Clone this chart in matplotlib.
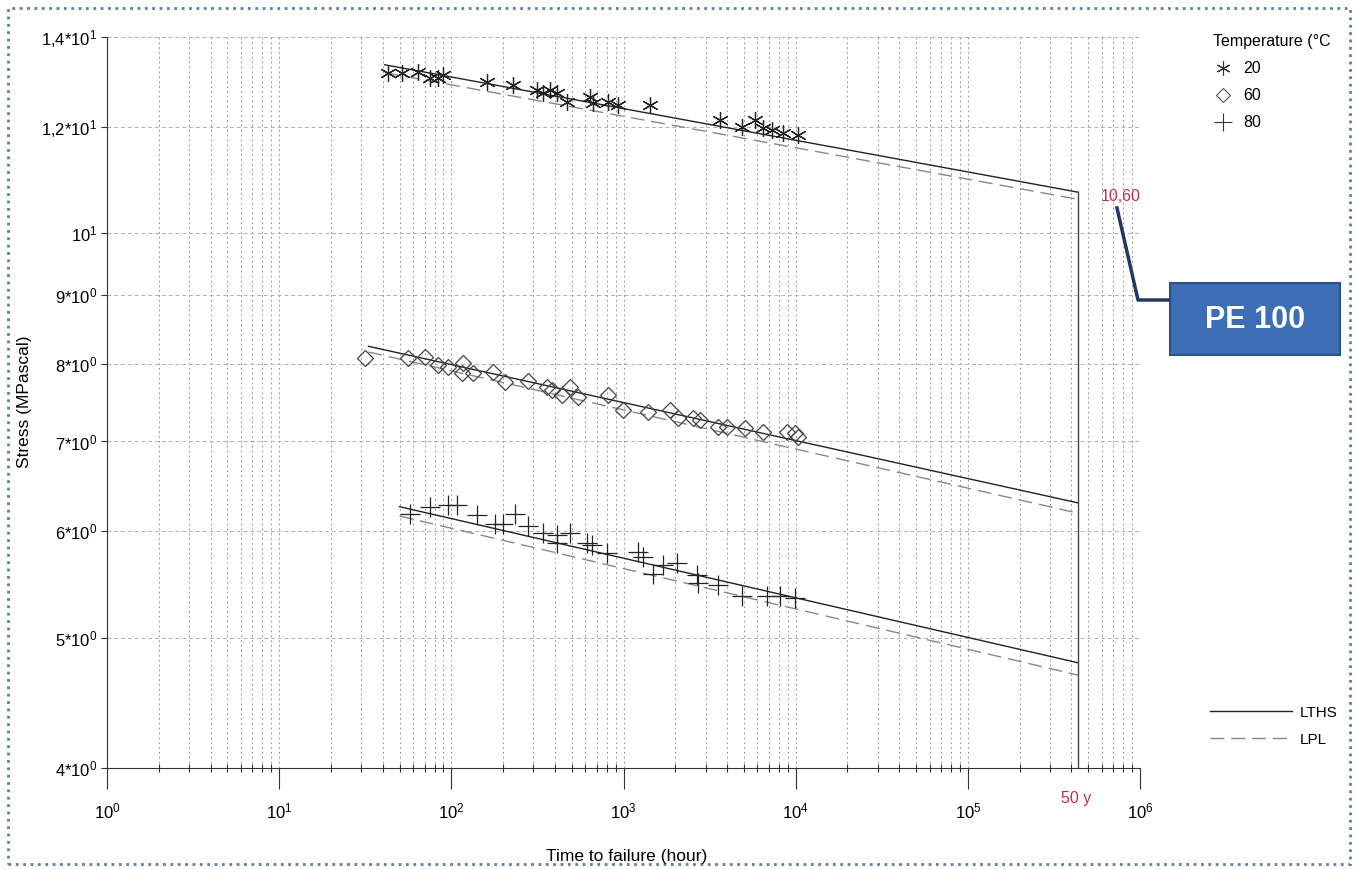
import numpy as np
import matplotlib
matplotlib.use("Agg")
import matplotlib.pyplot as plt
from matplotlib.lines import Line2D
from matplotlib.patches import Rectangle
from matplotlib.ticker import LogLocator, NullLocator, NullFormatter, FixedLocator

plt.rcParams['font.family'] = ['Liberation Sans', 'DejaVu Sans']
plt.rcParams['mathtext.default'] = 'regular'

# --- data ---
# 20 C (asterisks)
t_20 = [43, 52, 64, 75, 84, 89, 161, 228, 314, 340, 374, 410, 469, 638, 664,
        811, 927, 1420, 3630, 4870, 5800, 6450, 7280, 8430, 10300]
s_20 = [13.16, 13.16, 13.18, 13.06, 13.06, 13.11, 12.95, 12.89, 12.78, 12.71,
        12.78, 12.71, 12.52, 12.63, 12.50, 12.52, 12.46, 12.46, 12.14, 12.00,
        12.14, 11.98, 11.94, 11.88, 11.84]
# 60 C (diamonds)
t_60 = [31.5, 56, 70, 84, 95.5, 117, 115, 134, 175, 205, 279, 359, 384, 439,
        488, 543, 811, 993, 1386, 1860, 2070, 2530, 2780, 3530, 3980, 5070,
        6450, 8890, 9890, 10300]
s_60 = [8.07, 8.07, 8.09, 7.98, 7.95, 8.01, 7.87, 7.87, 7.88, 7.75, 7.77, 7.68,
        7.64, 7.58, 7.68, 7.55, 7.58, 7.39, 7.36, 7.39, 7.29, 7.29, 7.26, 7.17,
        7.17, 7.16, 7.11, 7.11, 7.10, 7.05]
# 80 C (plus)
t_80 = [57.5, 75, 95.6, 108, 141, 179, 199, 234, 279, 340, 410, 410, 488, 613,
        656, 801, 1212, 1297, 1482, 1693, 2042, 2670, 2705, 3530, 4870, 6800,
        8090, 9890]
s_80 = [6.18, 6.26, 6.28, 6.28, 6.17, 6.08, 6.08, 6.18, 6.06, 5.98, 5.96, 5.88,
        5.98, 5.88, 5.86, 5.78, 5.79, 5.74, 5.58, 5.66, 5.68, 5.57, 5.49, 5.47,
        5.37, 5.37, 5.37, 5.35]

# fitted lines (start, 50 years)
t_fit_20 = [41, 438000]
lths_20 = [13.35, 10.73]
lpl_20 = [13.17, 10.60]
t_fit_60 = [33, 438000]
lths_60 = [8.24, 6.30]
lpl_60 = [8.16, 6.19]
t_fit_80 = [50, 438000]
lths_80 = [6.26, 4.79]
lpl_80 = [6.16, 4.69]

t_50y = 438000

ytick_vals = [4, 5, 6, 7, 8, 9, 10, 12, 14]
ytick_labels = [r'4*10$^{0}$', r'5*10$^{0}$', r'6*10$^{0}$', r'7*10$^{0}$',
                r'8*10$^{0}$', r'9*10$^{0}$', r'10$^{1}$', r'1,2*10$^{1}$',
                r'1,4*10$^{1}$']
xtick_vals = [1, 10, 100, 1e3, 1e4, 1e5, 1e6]
xtick_labels = [r'10$^{%d}$' % i for i in range(7)]

W, H = 1355, 869
fig = plt.figure(figsize=(W / 100, H / 100), dpi=100)


def fx(x):
    return x / W


def fy(y):
    return 1 - y / H


ax = fig.add_axes([fx(107), fy(768), fx(1140) - fx(107), fy(37) - fy(768)])
ax.set_xscale('log')
ax.set_yscale('log')
ax.set_xlim(1, 1e6)
ax.set_ylim(4, 14)

for s in ['top', 'right']:
    ax.spines[s].set_visible(False)
ax.spines['left'].set_color('#333333')
ax.spines['bottom'].set_color('#333333')

ax.yaxis.set_major_locator(FixedLocator(ytick_vals))
ax.set_yticklabels(ytick_labels)
ax.yaxis.set_minor_locator(NullLocator())
ax.yaxis.set_minor_formatter(NullFormatter())
ax.xaxis.set_major_locator(FixedLocator(xtick_vals))
ax.set_xticklabels(xtick_labels)
ax.xaxis.set_minor_locator(LogLocator(base=10, subs=np.arange(2, 10), numticks=20))
ax.xaxis.set_minor_formatter(NullFormatter())

ax.tick_params(axis='y', direction='out', length=4, width=0.8, pad=3,
               labelsize=12, color='#333333')
ax.tick_params(axis='x', which='major', direction='out', length=15, width=0.8,
               pad=9, labelsize=12, color='#333333')
ax.tick_params(axis='x', which='minor', direction='inout', length=6, width=0.8,
               color='#333333')

ax.grid(True, which='both', axis='x', ls=(0, (2, 3)), color='#9a9a9a', lw=0.7)
ax.grid(True, which='major', axis='y', ls=(0, (4, 3)), color='#b0b0b0', lw=0.7)
ax.set_axisbelow(True)

# fitted lines
for tf, lt, lp in [(t_fit_20, lths_20, lpl_20), (t_fit_60, lths_60, lpl_60),
                   (t_fit_80, lths_80, lpl_80)]:
    ax.plot(tf, lt, color='#222222', lw=1.0)
    ax.plot(tf, lp, color='#888888', lw=1.0, ls=(0, (10, 5)))

ax.plot([t_50y, t_50y], [4, lths_20[1]], color='#444444', lw=1.0)

# measured points
ax.plot(t_20, s_20, ls='none', marker=(6, 2, 0), ms=12, mec='#222222', mew=0.9)
ax.plot(t_60, s_60, ls='none', marker='D', ms=8, mfc='none', mec='#444444', mew=0.9)
ax.plot(t_80, s_80, ls='none', marker='+', ms=14, mec='#222222', mew=0.9)

red = '#c0304a'
fig.text(fx(1076), fy(798), '50 y', color=red, fontsize=11.5,
         ha='center', va='center')
ax.text(t_50y * 1.35, lpl_20[1] * 1.005, '10,60', color=red, fontsize=11.5,
        ha='left', va='center')

# axis titles
fig.text(fx(25), fy(402), 'Stress (MPascal)', rotation=90, fontsize=12.5,
         ha='center', va='center')
fig.text(fx(627), fy(857), 'Time to failure (hour)', fontsize=12.5,
         ha='center', va='center')

# legends
h1 = [Line2D([], [], ls='none', marker=(6, 2, 0), ms=10, mec='#333333', mew=0.8),
      Line2D([], [], ls='none', marker='D', ms=7, mfc='none', mec='#555555', mew=0.8),
      Line2D([], [], ls='none', marker='+', ms=13, mec='#333333', mew=0.8)]
fig.legend(h1, ['20', '60', '80'], loc='upper left',
           bbox_to_anchor=(fx(1199), fy(20)), title='Temperature (°C',
           alignment='left', frameon=False, fontsize=11.5, title_fontsize=11.5,
           handlelength=1.2, handletextpad=0.7, labelspacing=0.75)

h2 = [Line2D([], [], color='#222222', lw=1.0),
      Line2D([], [], color='#888888', lw=1.0, ls=(0, (10, 5)))]
fig.legend(h2, ['LTHS', 'LPL'], loc='upper left',
           bbox_to_anchor=(fx(1196), fy(692)), frameon=False, fontsize=11,
           handlelength=5.4, handletextpad=0.5, labelspacing=0.85)

# PE 100 callout
fig.add_artist(Line2D([fx(1117), fx(1138), fx(1168)], [fy(208), fy(300), fy(300)],
                      transform=fig.transFigure, color='#1f3864', lw=2.5))
fig.add_artist(Rectangle((fx(1170), fy(355)), fx(170), fy(283) - fy(355),
                         transform=fig.transFigure, fc='#3d6db5', ec='#2c5088', lw=1.5))
fig.text(fx(1255), fy(320), 'PE 100', color='white', fontsize=22,
         fontweight='bold', ha='center', va='center')

# dotted frame round the picture
fig.add_artist(Rectangle((fx(8), fy(864)), fx(1342), fy(8) - fy(864),
                         transform=fig.transFigure, fill=False, ec='#5a7fa8',
                         lw=2.0, ls=':'))

fig.savefig('out.png', dpi=100)
